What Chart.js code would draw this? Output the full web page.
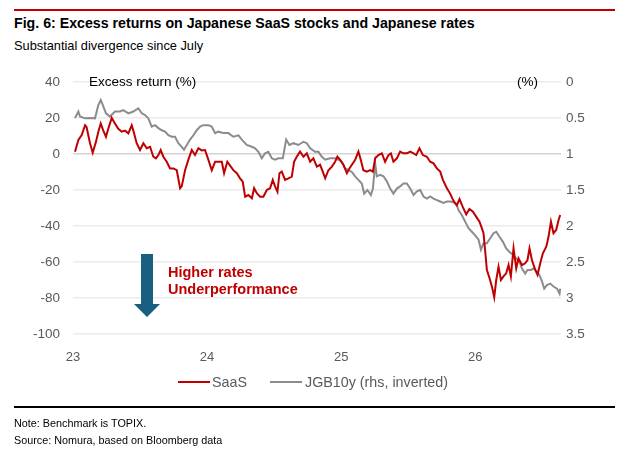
<!DOCTYPE html>
<html>
<head>
<meta charset="utf-8">
<script src="https://cdn.jsdelivr.net/npm/chart.js@4.4.1/dist/chart.umd.min.js"></script>
<style>
  html, body { margin:0; padding:0; background:#fff; }
  body { width:632px; height:459px; position:relative; overflow:hidden; font-family:"Liberation Sans", Arial, sans-serif; }
  .abs { position:absolute; white-space:nowrap; }
  #c { position:absolute; left:0; top:0; }
</style>
</head>
<body>
<div class="abs" style="left:14px;top:9px;width:601px;height:2px;background:#c00000;"></div>
<div class="abs" style="left:14px;top:15px;font-weight:bold;font-size:14.2px;line-height:17px;color:#000;">Fig. 6: Excess returns on Japanese SaaS stocks and Japanese rates</div>
<div class="abs" style="left:14px;top:38px;font-size:12.8px;line-height:15px;color:#000;">Substantial divergence since July</div>
<canvas id="c" width="632" height="459"></canvas>
<div class="abs" style="left:89px;top:74px;font-size:13.5px;line-height:16px;color:#000;">Excess return (%)</div>
<div class="abs" style="left:517px;top:74px;font-size:13.5px;line-height:16px;color:#000;">(%)</div>
<svg class="abs" style="left:0;top:0;" width="632" height="459">
  <polygon points="141,254 153,254 153,304 160,304 147,317 134,304 141,304" fill="#185f80"/>
</svg>
<div class="abs" style="left:168px;top:264px;font-weight:bold;font-size:14.5px;line-height:17px;color:#c00000;">Higher rates<br>Underperformance</div>
<div class="abs" style="left:178px;top:381px;width:32px;height:2px;background:#c00000;"></div>
<div class="abs" style="left:212px;top:374px;font-size:14.3px;line-height:17px;color:#595959;">SaaS</div>
<div class="abs" style="left:270px;top:381px;width:32px;height:2px;background:#8c8c8c;"></div>
<div class="abs" style="left:305px;top:374px;font-size:14.3px;line-height:17px;color:#595959;">JGB10y (rhs, inverted)</div>
<div class="abs" style="left:14px;top:406px;width:601px;height:2px;background:#000;"></div>
<div class="abs" style="left:14px;top:417px;font-size:10.8px;line-height:13px;color:#000;">Note: Benchmark is TOPIX.</div>
<div class="abs" style="left:14px;top:434px;font-size:10.8px;line-height:13px;color:#000;">Source: Nomura, based on Bloomberg data</div>
<script>
// Dates as fractional years (23 = 2023)
const saasDates = [23.015,23.040,23.065,23.090,23.101,23.127,23.147,23.172,23.189,23.207,23.226,23.246,23.263,23.289,23.313,23.338,23.363,23.388,23.413,23.438,23.450,23.475,23.500,23.525,23.550,23.575,23.599,23.619,23.637,23.654,23.674,23.699,23.724,23.749,23.774,23.799,23.811,23.836,23.860,23.886,23.910,23.935,23.960,23.985,24.010,24.035,24.060,24.084,24.110,24.127,24.151,24.177,24.196,24.222,24.246,24.266,24.284,24.308,24.334,24.351,24.371,24.396,24.420,24.446,24.470,24.490,24.507,24.525,24.540,24.557,24.582,24.607,24.632,24.649,24.669,24.694,24.719,24.744,24.769,24.793,24.819,24.843,24.863,24.881,24.905,24.931,24.955,24.972,24.993,25.017,25.043,25.062,25.080,25.104,25.129,25.147,25.166,25.192,25.216,25.237,25.254,25.278,25.304,25.328,25.353,25.371,25.390,25.416,25.440,25.465,25.490,25.515,25.540,25.560,25.584,25.610,25.640,25.664,25.689,25.714,25.739,25.759,25.789,25.813,25.838,25.863,25.883,25.908,25.933,25.957,25.983,26.007,26.032,26.050,26.062,26.075,26.087,26.107,26.125,26.142,26.157,26.174,26.192,26.211,26.231,26.249,26.266,26.286,26.306,26.323,26.349,26.373,26.390,26.405,26.423,26.448,26.465,26.485,26.505,26.530,26.547,26.565,26.584,26.604,26.622,26.634];
const saasExcess = [1.3,7.8,10.5,16,15,6,0.7,7,12.4,17,13,9.6,14,20,17,14,12.4,13,11.5,16,13,6,2.2,6,3.2,4,-1.5,-2.4,-0.6,2.2,-1.5,-4.3,-8,-8,-9,-19,-18,-9,-3.3,2.2,-0.6,3.2,2,2.2,-3.3,-9,-4.3,-4.3,-4.3,-10.7,-4.3,-7,-9,-10.7,-13.5,-15.4,-23.7,-22.8,-24.6,-19,-21.8,-23.7,-23.7,-20,-19,-14.4,-18,-21,-10.7,-9.8,-14.4,-13.5,-12.6,-4.3,-1.5,1.3,-1.5,0.4,-4.3,-2.4,-7,-6,-9.8,-13.5,-9,-7,-4.3,-1.5,-3.3,-6,-10.7,-8,-6,-3.3,1.3,-3.3,-9,-9.8,-9,-9.8,-2.4,-0.6,0.4,-4.3,-0.6,0.4,-4.3,-2.4,1.3,0.4,0.4,1.3,0.4,-0.6,3.2,-0.6,-1.5,-4.3,-5.2,-8,-9.8,-14.4,-19,-22,-26,-28.5,-25,-29.5,-33.5,-30.5,-32,-34.8,-37.6,-41.3,-44,-54.3,-64.4,-69,-73.7,-79.6,-70,-62.6,-70,-68,-66.3,-61.7,-68,-52.4,-63.5,-58,-61.7,-60.7,-58.9,-52.4,-58.9,-64.4,-67.2,-60.7,-55.2,-51.5,-46,-37.6,-44,-42.2,-36.7,-33.9];
const jgbDates = [23.015,23.040,23.052,23.090,23.127,23.164,23.189,23.207,23.226,23.246,23.276,23.313,23.351,23.375,23.413,23.450,23.487,23.513,23.537,23.562,23.587,23.612,23.637,23.662,23.687,23.711,23.737,23.761,23.786,23.811,23.828,23.849,23.873,23.898,23.923,23.948,23.972,24.010,24.035,24.060,24.084,24.122,24.159,24.196,24.234,24.259,24.296,24.334,24.358,24.383,24.408,24.433,24.457,24.483,24.507,24.532,24.565,24.590,24.614,24.644,24.681,24.719,24.744,24.769,24.806,24.831,24.856,24.881,24.918,24.955,24.980,25.005,25.030,25.054,25.080,25.104,25.129,25.154,25.172,25.196,25.222,25.237,25.254,25.266,25.291,25.316,25.341,25.366,25.390,25.416,25.440,25.465,25.490,25.515,25.540,25.565,25.590,25.614,25.640,25.664,25.689,25.714,25.739,25.763,25.789,25.813,25.838,25.863,25.875,25.901,25.925,25.950,25.975,26.000,26.025,26.043,26.062,26.087,26.112,26.137,26.157,26.181,26.207,26.231,26.256,26.281,26.306,26.331,26.349,26.373,26.390,26.416,26.435,26.460,26.479,26.498,26.515,26.535,26.560,26.584,26.610,26.629,26.634];
const jgb10y = [0.5,0.41,0.48,0.505,0.5,0.505,0.32,0.25,0.34,0.435,0.48,0.41,0.41,0.39,0.435,0.41,0.365,0.435,0.46,0.505,0.62,0.6,0.64,0.67,0.69,0.74,0.76,0.76,0.85,0.9,0.94,0.875,0.8,0.74,0.67,0.62,0.6,0.6,0.62,0.71,0.69,0.71,0.71,0.76,0.74,0.8,0.875,0.9,0.92,0.97,1.06,0.99,0.97,1.06,1.08,1.06,1.06,0.8,0.875,0.85,0.875,0.83,0.85,0.92,0.97,0.97,1.04,1.08,1.06,1.06,1.08,1.11,1.2,1.22,1.25,1.31,1.36,1.41,1.55,1.5,1.57,1.48,1.13,1.31,1.29,1.31,1.38,1.48,1.55,1.48,1.45,1.41,1.41,1.48,1.57,1.52,1.5,1.59,1.62,1.59,1.62,1.64,1.66,1.68,1.66,1.66,1.67,1.71,1.78,1.85,1.94,2.03,2.08,2.13,2.19,2.33,2.24,2.24,2.17,2.1,2.08,2.15,2.22,2.31,2.36,2.4,2.45,2.5,2.59,2.66,2.61,2.61,2.59,2.63,2.68,2.77,2.87,2.82,2.8,2.84,2.87,2.94,2.87];
const xTickYears = [23,24,25,26];
const leftTicks = [40,20,0,-20,-40,-60,-80,-100];
const rightTicks = [0,0.5,1,1.5,2,2.5,3,3.5];

const pts = (xs, ys) => xs.map((x, i) => ({ x: x, y: ys[i] }));
const tickCol = '#595959';

new Chart(document.getElementById('c'), {
  type: 'line',
  data: {
    datasets: [
      { label: 'SaaS', data: pts(saasDates, saasExcess), yAxisID: 'y', borderColor: '#c00000', borderWidth: 2, pointRadius: 0, tension: 0, fill: false },
      { label: 'JGB10y (rhs, inverted)', data: pts(jgbDates, jgb10y), yAxisID: 'y1', borderColor: '#8c8c8c', borderWidth: 2, pointRadius: 0, tension: 0, fill: false }
    ]
  },
  options: {
    responsive: false,
    animation: false,
    events: [],
    layout: { padding: { top: 82, bottom: 85, left: 0, right: 0 } },
    plugins: { legend: { display: false }, tooltip: { enabled: false } },
    scales: {
      x: {
        type: 'linear', min: xTickYears[0], max: 26.64,
        afterFit: s => { s.height = 40; },
        afterBuildTicks: s => { s.ticks = xTickYears.map(v => ({ value: v })); },
        ticks: { color: tickCol, font: { family: 'Liberation Sans', size: 13 }, padding: 8, maxRotation: 0, autoSkip: false, callback: v => String(v) },
        grid: { display: false }, border: { display: false }
      },
      y: {
        position: 'left', min: -100, max: 40,
        afterFit: s => { s.width = 73; },
        afterBuildTicks: s => { s.ticks = leftTicks.map(v => ({ value: v })); },
        ticks: { color: tickCol, font: { family: 'Liberation Sans', size: 13.5 }, padding: 13, callback: v => String(v) },
        grid: { drawTicks: false, lineWidth: 1.5, color: c => (c.tick && c.tick.value === 0) ? '#d4d4d4' : '#ebebeb' },
        border: { display: false }
      },
      y1: {
        position: 'right', min: 0, max: 3.5, reverse: true,
        afterFit: s => { s.width = 71; },
        afterBuildTicks: s => { s.ticks = rightTicks.map(v => ({ value: v })); },
        ticks: { color: tickCol, font: { family: 'Liberation Sans', size: 13.5 }, padding: 5, callback: v => String(v) },
        grid: { display: false, drawTicks: false }, border: { display: false }
      }
    }
  }
});
</script>
</body>
</html>
